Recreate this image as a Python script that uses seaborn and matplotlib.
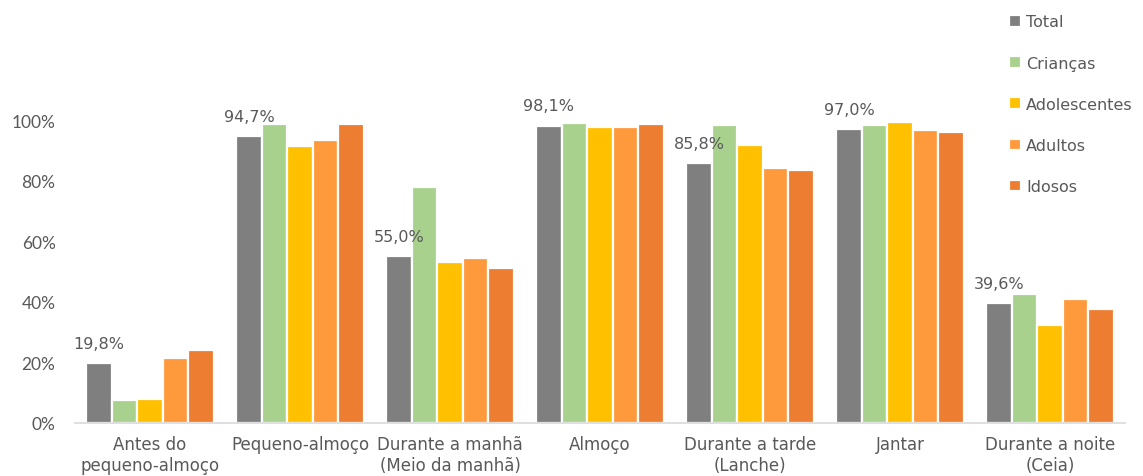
import numpy as np
import pandas as pd
import matplotlib
matplotlib.use("Agg")
import matplotlib.pyplot as plt
import seaborn as sns

categories = ["Antes do\npequeno-almoço", "Pequeno-almoço", "Durante a manhã\n(Meio da manhã)",
              "Almoço", "Durante a tarde\n(Lanche)", "Jantar", "Durante a noite\n(Ceia)"]
groups = ["Total", "Crianças", "Adolescentes", "Adultos", "Idosos"]
total = [19.8, 94.7, 55.0, 98.1, 85.8, 97.0, 39.6]
criancas = [7.6, 98.7, 78.0, 99.0, 98.3, 98.3, 42.5]
adolescentes = [7.9, 91.4, 53.1, 97.7, 91.7, 99.3, 32.3]
adultos = [21.4, 93.4, 54.3, 97.7, 84.2, 96.7, 40.9]
idosos = [24.1, 98.7, 51.2, 98.7, 83.5, 96.0, 37.6]
colors = ["#7F7F7F", "#A9D18E", "#FFC000", "#FF9A3C", "#ED7D31"]

series = [total, criancas, adolescentes, adultos, idosos]
rows = []
for g, vals in zip(groups, series):
    for c, v in zip(categories, vals):
        rows.append({"Refeição": c, "Grupo": g, "Valor": v / 100})
df = pd.DataFrame(rows)

sns.set_style("white")
plt.rcParams['font.family'] = ['DejaVu Sans']
txt = "#595959"

fig = plt.figure(figsize=(11.43, 4.77), dpi=100)
ax = fig.add_axes([75 / 1143, 1 - 424 / 477, 1050 / 1143, (424 - 121) / 477])
sns.barplot(data=df, x="Refeição", y="Valor", hue="Grupo", order=categories, hue_order=groups,
            palette=colors, width=0.85, edgecolor="white", linewidth=1.6, saturation=1,
            ax=ax, legend=True)
ax.set_ylim(0, 1.0)
ax.set_xlim(-0.5, len(categories) - 0.5)
ax.set_xlabel("")
ax.set_ylabel("")
ax.set_yticks(np.arange(0, 1.01, 0.2))
ax.set_yticklabels([f"{int(round(t * 100))}%" for t in np.arange(0, 1.01, 0.2)],
                   fontsize=12.5, color=txt, family="Lato")
ax.tick_params(axis="y", length=0, pad=14)
ax.tick_params(axis="x", length=0, pad=9, labelsize=12, labelcolor=txt)
for lab in ax.get_xticklabels():
    lab.set_linespacing(1.15)
for s in ["top", "right", "left"]:
    ax.spines[s].set_visible(False)
ax.spines["bottom"].set_color("#D9D9D9")
ax.spines["bottom"].set_linewidth(1.2)

# value labels for Total series
cont = ax.containers[0]
for bar, v in zip(cont, total):
    ax.annotate(f"{v:.1f}%".replace(".", ","), (bar.get_x() + bar.get_width() / 2, bar.get_height()),
                xytext=(0, 11), textcoords="offset points", ha="center", va="baseline",
                fontsize=11.5, color=txt, annotation_clip=False)

handles, labels = ax.get_legend_handles_labels()
ax.legend(handles, labels, loc="upper left", bbox_to_anchor=(995 / 1143, 1 - 1 / 477),
          bbox_transform=fig.transFigure, frameon=False, fontsize=11.5, labelcolor=txt,
          handlelength=0.75, handleheight=0.75, handletextpad=0.3, labelspacing=1.64)

fig.savefig("out.png", dpi=100)
